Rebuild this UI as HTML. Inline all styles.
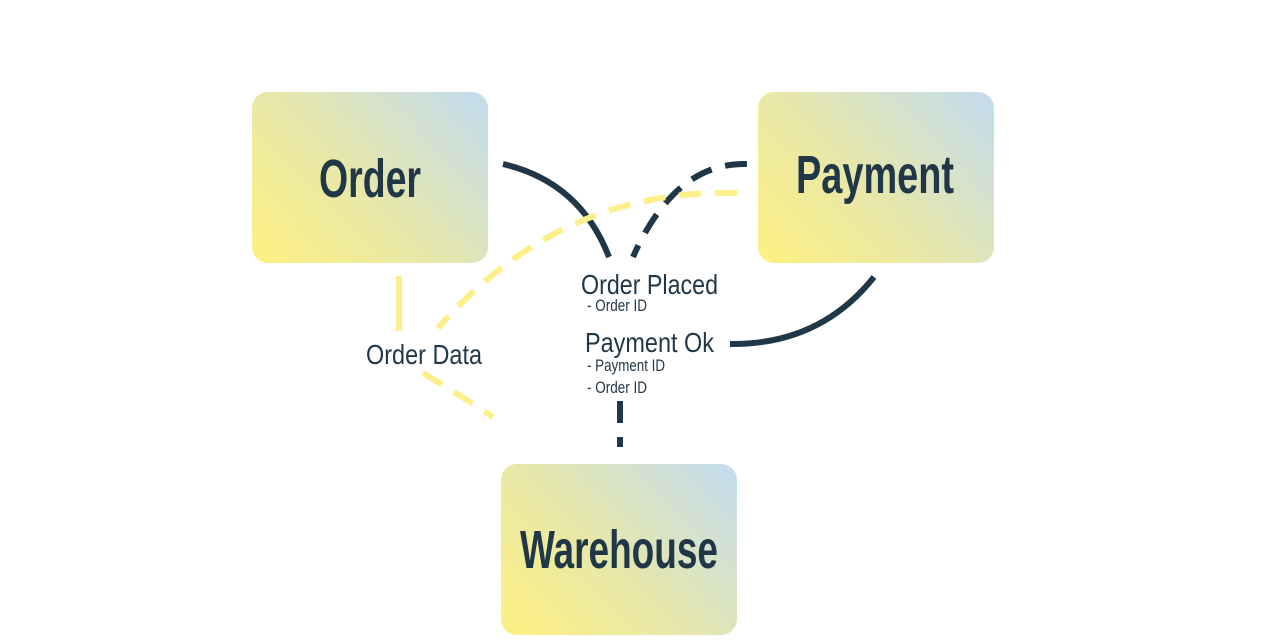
<!DOCTYPE html>
<html><head><meta charset="utf-8"><style>
html,body{margin:0;padding:0;background:#fff;}
svg{display:block;}
text{font-family:"Liberation Sans",sans-serif;fill:#1f3747;}
</style></head><body>
<svg width="1280" height="640" viewBox="0 0 1280 640" xmlns="http://www.w3.org/2000/svg">
<defs>
<linearGradient id="g" x1="0" y1="0.85" x2="1" y2="0.15">
<stop offset="0" stop-color="#fbf086"/>
<stop offset="0.45" stop-color="#e7e7aa"/>
<stop offset="1" stop-color="#c6dde9"/>
</linearGradient>
</defs>
<rect x="252" y="92" width="236" height="171" rx="16" fill="url(#g)"/>
<rect x="758" y="92" width="236" height="171" rx="16" fill="url(#g)"/>
<rect x="501" y="464" width="236" height="171" rx="16" fill="url(#g)"/>

<text x="319" y="197" font-size="54" font-weight="bold" textLength="102" lengthAdjust="spacingAndGlyphs">Order</text>
<text x="796" y="193" font-size="54" font-weight="bold" textLength="158" lengthAdjust="spacingAndGlyphs">Payment</text>
<text x="520" y="568" font-size="54" font-weight="bold" textLength="198" lengthAdjust="spacingAndGlyphs">Warehouse</text>

<g fill="none" stroke-width="6">
<path d="M503,164 Q580,182 609,257" stroke="#1f3747"/>
<path d="M747,164 Q675,162 633,257" stroke="#1f3747" stroke-dasharray="22,14"/>
<path d="M737,193 Q560,188 438,328" stroke="#fdf08a" stroke-dasharray="22,14"/>
<path d="M399,276 L399,331" stroke="#fdf08a"/>
<path d="M423,373 Q460,395 493,417" stroke="#fdf08a" stroke-dasharray="22,14"/>
<path d="M874,277 Q820,345 730,344" stroke="#1f3747"/>
<path d="M620,401 L620,447" stroke="#1f3747" stroke-dasharray="22,14"/>
</g>

<text x="581" y="294" font-size="28" textLength="137" lengthAdjust="spacingAndGlyphs">Order Placed</text>
<text x="587" y="311" font-size="17" textLength="60" lengthAdjust="spacingAndGlyphs">- Order ID</text>
<text x="585" y="352" font-size="28" textLength="129" lengthAdjust="spacingAndGlyphs">Payment Ok</text>
<text x="587" y="371" font-size="17" textLength="78" lengthAdjust="spacingAndGlyphs">- Payment ID</text>
<text x="587" y="393" font-size="17" textLength="60" lengthAdjust="spacingAndGlyphs">- Order ID</text>
<text x="366" y="364" font-size="28" textLength="116" lengthAdjust="spacingAndGlyphs">Order Data</text>
</svg>
</body></html>
